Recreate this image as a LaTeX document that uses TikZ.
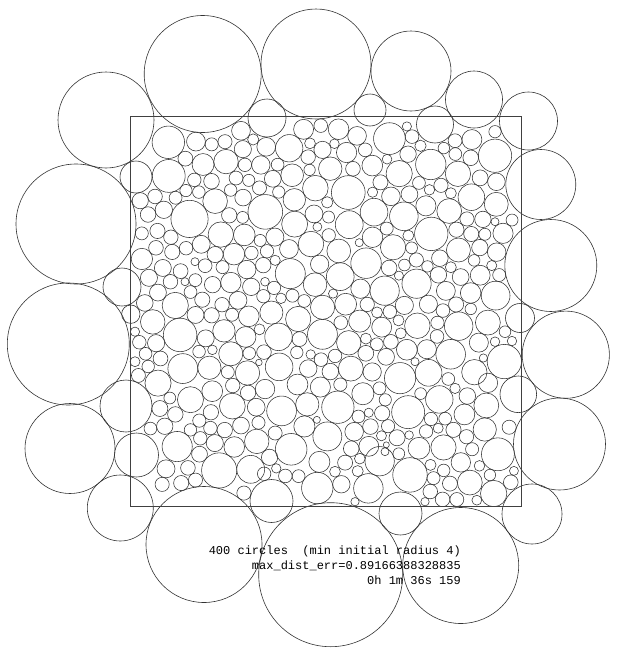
\documentclass[tikz,border=0pt]{standalone}
\usepackage{fontspec}
\newfontfamily\monofont{Liberation Mono}
\makeatletter
\def\getv#1#2#3{\csname #1-#2-#3\endcsname}
\def\setv#1#2#3#4{\expandafter\xdef\csname #1-#2-#3\endcsname{#4}}
\def\dnum#1{\strip@pt\dimexpr#1\relax}
\makeatother
\def\SX{130}\def\SY{116.7}\def\SXE{521.5}\def\SYE{506.7}
\def\SP{20.605}\def\HS{17.727}\def\JIT{8}\def\UNIT{11.8}
\def\FIXED{202.7/74/58.5,316/64/55,411/71/40,474/99.5/28.5,528.5/121/29,106/120/48,267/118/19,370/110/16,435/124.5/18.5,136/177/16,76/224/60,540.8/184.5/35,550.8/265.5/46,122/287/19,130.8/314.2/9.2,68.3/344/61,520/318/14.5,565.8/354.7/43.6,518.3/394.3/18.3,126/406/26,70/448.5/45,559.5/444/46,136.5/455/22,120.3/508/33,532/514/30,204/544.5/58,330.7/574.7/72,460.7/565.5/58,400.5/513.5/21.5,271.5/501/21.5}
\def\HALF{1/0,2/0,-2/1,-1/1,0/1,1/1,2/1,-2/2,-1/2,0/2,1/2,2/2}
\def\FULL{-2/-2,-1/-2,0/-2,1/-2,2/-2,-2/-1,-1/-1,0/-1,1/-1,2/-1,-2/0,-1/0,1/0,2/0,-2/1,-1/1,0/1,1/1,2/1,-2/2,-1/2,0/2,1/2,2/2}
\def\FULLZ{0/0,-1/0,1/0,0/-1,0/1,-1/-1,1/-1,-1/1,1/1,-2/0,2/0,0/-2,0/2,-2/-2,-1/-2,1/-2,2/-2,-2/-1,2/-1,-2/1,2/1,-2/2,-1/2,1/2,2/2}
\def\CELLS{0/0,-1/-1,0/-1,1/-1,-1/0,1/0,-1/1,0/1,1/1}
\tikzset{
  fixedcircle/.style={draw=black!80, line width=0.6pt},
  packcircle/.style={draw=black!80, line width=0.55pt},
  frame/.style={draw=black!75, line width=1pt},
  caption/.style={font=\monofont\fontsize{12}{15}\selectfont, inner sep=0pt, anchor=base east, text=black}
}
% ---------- pass 1: lattice points, target radii, nearby fixed circles
\pgfmathsetseed{2024}%
\gdef\ACTIVE{}%
\foreach \j in {0,...,21}{%
  \pgfmathtruncatemacro\qodd{mod(\j,2)}%
  \pgfmathtruncatemacro\qimax{18-\qodd}%
  \foreach \i in {0,...,\qimax}{%
    \pgfmathsetmacro\qx{\SX+(\i+0.5+0.5*\qodd)*\SP+(rnd-0.5)*\JIT}%
    \pgfmathsetmacro\qy{\SY+(\j+0.5)*\HS+(rnd-0.5)*\JIT}%
    \pgfmathsetmacro\qu{rnd}%
    \pgfmathsetmacro\qR{\UNIT*(0.55+1.1*\qu*\qu*sqrt(\qu))}%
    \gdef\qM{100}%
    \gdef\qF{}%
    \foreach \fx/\fy/\fr in \FIXED {%
      \ifdim\dimexpr\qx pt-\fx pt\relax<\dimexpr\fr pt+45pt\relax
      \ifdim\dimexpr\fx pt-\qx pt\relax<\dimexpr\fr pt+45pt\relax
      \ifdim\dimexpr\qy pt-\fy pt\relax<\dimexpr\fr pt+45pt\relax
      \ifdim\dimexpr\fy pt-\qy pt\relax<\dimexpr\fr pt+45pt\relax
        \pgfmathsetmacro\qt{10*sqrt(((\qx-\fx)/10)^2+((\qy-\fy)/10)^2)-\fr}%
        \ifdim\qt pt<45pt
          \ifx\qF\empty\xdef\qF{\fx/\fy/\fr}\else\xdef\qF{\qF,\fx/\fy/\fr}\fi
        \fi
        \ifdim\qt pt<\qM pt\global\let\qM\qt\fi
      \fi\fi\fi\fi
    }%
    \ifdim\qM pt>4pt
      \setv{qx}{\i}{\j}{\qx}%
      \setv{qy}{\i}{\j}{\qy}%
      \setv{qR}{\i}{\j}{\qR}%
      \setv{qr}{\i}{\j}{\qR}%
      \setv{qF}{\i}{\j}{\qF}%
      \ifx\ACTIVE\empty\xdef\ACTIVE{\i/\j}\else\xdef\ACTIVE{\ACTIVE,\i/\j}\fi
    \fi
  }%
}%
% ---------- pass 2: relaxation (push overlapping circles apart)
\foreach \iter in {1,...,14}{%
 \foreach \i/\j in \ACTIVE {%
  \foreach \ddi/\ddj in \HALF {%
    \edef\nni{\the\numexpr\i+\ddi\relax}%
    \edef\nnj{\the\numexpr\j+\ddj\relax}%
    \ifcsname qx-\nni-\nnj\endcsname
      \edef\pax{\getv{qx}{\i}{\j}}%
      \edef\pay{\getv{qy}{\i}{\j}}%
      \edef\pbx{\getv{qx}{\nni}{\nnj}}%
      \edef\pby{\getv{qy}{\nni}{\nnj}}%
      \edef\pdx{\dnum{\pax pt-\pbx pt}}%
      \edef\pdy{\dnum{\pay pt-\pby pt}}%
      \edef\pneed{\dnum{\getv{qR}{\i}{\j}pt+\getv{qR}{\nni}{\nnj}pt}}%
      \ifnum\numexpr(\dimexpr\pdx pt\relax/655)*(\dimexpr\pdx pt\relax/655)+(\dimexpr\pdy pt\relax/655)*(\dimexpr\pdy pt\relax/655)\relax<\numexpr(\dimexpr\pneed pt\relax/655)*(\dimexpr\pneed pt\relax/655)\relax
        \pgfmathsetmacro\pd{max(sqrt((\pdx)*(\pdx)+(\pdy)*(\pdy)),0.05)}%
        \pgfmathsetmacro\pf{(\pneed-\pd)/(2*\pd)}%
        \setv{qx}{\i}{\j}{\dnum{\pax pt+\pf\dimexpr\pdx pt\relax}}%
        \setv{qy}{\i}{\j}{\dnum{\pay pt+\pf\dimexpr\pdy pt\relax}}%
        \setv{qx}{\nni}{\nnj}{\dnum{\pbx pt-\pf\dimexpr\pdx pt\relax}}%
        \setv{qy}{\nni}{\nnj}{\dnum{\pby pt-\pf\dimexpr\pdy pt\relax}}%
      \fi
    \fi
  }%
  \edef\qFl{\getv{qF}{\i}{\j}}%
  \ifx\qFl\empty\else
    \foreach \fx/\fy/\fr in \qFl {%
      \edef\pax{\getv{qx}{\i}{\j}}%
      \edef\pay{\getv{qy}{\i}{\j}}%
      \edef\pdx{\dnum{\pax pt-\fx pt}}%
      \edef\pdy{\dnum{\pay pt-\fy pt}}%
      \edef\pneed{\dnum{\getv{qR}{\i}{\j}pt+\fr pt}}%
      \ifnum\numexpr(\dimexpr\pdx pt\relax/6554)*(\dimexpr\pdx pt\relax/6554)+(\dimexpr\pdy pt\relax/6554)*(\dimexpr\pdy pt\relax/6554)\relax<\numexpr(\dimexpr\pneed pt\relax/6554)*(\dimexpr\pneed pt\relax/6554)\relax
        \pgfmathsetmacro\pd{max(10*sqrt((\pdx/10)^2+(\pdy/10)^2),0.05)}%
        \pgfmathsetmacro\pf{(\pneed-\pd)/\pd}%
        \setv{qx}{\i}{\j}{\dnum{\pax pt+\pf\dimexpr\pdx pt\relax}}%
        \setv{qy}{\i}{\j}{\dnum{\pay pt+\pf\dimexpr\pdy pt\relax}}%
      \fi
    }%
  \fi
  \edef\pax{\getv{qx}{\i}{\j}}%
  \edef\pay{\getv{qy}{\i}{\j}}%
  \edef\paR{\getv{qR}{\i}{\j}}%
  \ifdim\pax pt<\dimexpr\SX pt+\paR pt\relax\setv{qx}{\i}{\j}{\dnum{\SX pt+\paR pt}}\fi
  \ifdim\pax pt>\dimexpr\SXE pt-\paR pt\relax\setv{qx}{\i}{\j}{\dnum{\SXE pt-\paR pt}}\fi
  \ifdim\pay pt<\dimexpr\SY pt+\paR pt\relax\setv{qy}{\i}{\j}{\dnum{\SY pt+\paR pt}}\fi
  \ifdim\pay pt>\dimexpr\SYE pt-\paR pt\relax\setv{qy}{\i}{\j}{\dnum{\SYE pt-\paR pt}}\fi
 }%
}%
% ---------- pass 3 (twice): final radii, no overlaps, touching neighbours
\foreach \rep in {1,2}{%
\foreach \i/\j in \ACTIVE {%
  \edef\pax{\getv{qx}{\i}{\j}}%
  \edef\pay{\getv{qy}{\i}{\j}}%
  \pgfmathsetmacro\qt{min(\pax-\SX,\SXE-\pax,\pay-\SY,\SYE-\pay,30)}%
  \global\let\qRR\qt
  \edef\qFl{\getv{qF}{\i}{\j}}%
  \ifx\qFl\empty\else
    \foreach \fx/\fy/\fr in \qFl {%
      \pgfmathsetmacro\qt{min(\qRR,10*sqrt(((\pax-\fx)/10)^2+((\pay-\fy)/10)^2)-\fr)}%
      \global\let\qRR\qt
    }%
  \fi
  \foreach \ddi/\ddj in \FULL {%
    \edef\nni{\the\numexpr\i+\ddi\relax}%
    \edef\nnj{\the\numexpr\j+\ddj\relax}%
    \ifcsname qx-\nni-\nnj\endcsname
      \edef\pbx{\getv{qx}{\nni}{\nnj}}%
      \edef\pby{\getv{qy}{\nni}{\nnj}}%
      \edef\pbr{\getv{qr}{\nni}{\nnj}}%
      \edef\pdx{\dnum{\pax pt-\pbx pt}}%
      \edef\pdy{\dnum{\pay pt-\pby pt}}%
      \edef\pneed{\dnum{\qRR pt+\pbr pt}}%
      \ifnum\numexpr(\dimexpr\pdx pt\relax/655)*(\dimexpr\pdx pt\relax/655)+(\dimexpr\pdy pt\relax/655)*(\dimexpr\pdy pt\relax/655)\relax<\numexpr(\dimexpr\pneed pt\relax/655)*(\dimexpr\pneed pt\relax/655)\relax
        \pgfmathsetmacro\qt{min(\qRR,sqrt((\pdx)*(\pdx)+(\pdy)*(\pdy))-\pbr)}%
        \global\let\qRR\qt
      \fi
    \fi
  }%
  \setv{qr}{\i}{\j}{\qRR}%
}%
}%
% ---------- pass 4: fill the remaining gaps with extra circles
\gdef\FILLS{}%
\foreach \thr in {6,4}{%
 \foreach \cyk in {0,...,38}{%
  \foreach \cxk in {0,...,38}{%
   \edef\gx{\the\numexpr135+10*\cxk\relax}%
   \edef\gy{\dnum{121.7pt+10\dimexpr\cyk pt\relax}}%
   \pgfmathsetmacro\gw{min(\gx-\SX,\SXE-\gx,\gy-\SY,\SYE-\gy)}%
   \pgfmathsetmacro\gr{min(\gw,11)}%
   \global\let\gR\gr
   \pgfmathtruncatemacro\gi{(\gx-\SX)/\SP}%
   \pgfmathtruncatemacro\gj{(\gy-\SY)/\HS}%
   \foreach \ddi/\ddj in \FULLZ {%
     \ifdim\gR pt<\thr pt\else
       \edef\nni{\the\numexpr\gi+\ddi\relax}%
       \edef\nnj{\the\numexpr\gj+\ddj\relax}%
       \ifcsname qx-\nni-\nnj\endcsname
         \edef\pbr{\getv{qr}{\nni}{\nnj}}%
         \ifdim\pbr pt>1.5pt
           \edef\pdx{\dnum{\gx pt-\getv{qx}{\nni}{\nnj}pt}}%
           \edef\pdy{\dnum{\gy pt-\getv{qy}{\nni}{\nnj}pt}}%
           \edef\pneed{\dnum{\gR pt+\pbr pt}}%
           \ifnum\numexpr(\dimexpr\pdx pt\relax/655)*(\dimexpr\pdx pt\relax/655)+(\dimexpr\pdy pt\relax/655)*(\dimexpr\pdy pt\relax/655)\relax<\numexpr(\dimexpr\pneed pt\relax/655)*(\dimexpr\pneed pt\relax/655)\relax
             \pgfmathsetmacro\qt{min(\gR,sqrt((\pdx)*(\pdx)+(\pdy)*(\pdy))-\pbr)}%
             \global\let\gR\qt
           \fi
         \fi
       \fi
     \fi
   }%
   \ifdim\gR pt<\thr pt\else
     \ifdim\gw pt<40pt
       \foreach \fx/\fy/\fr in \FIXED {%
         \ifdim\gR pt<\thr pt\else
           \edef\pdx{\dnum{\gx pt-\fx pt}}%
           \edef\pdy{\dnum{\gy pt-\fy pt}}%
           \edef\pneed{\dnum{\gR pt+\fr pt}}%
           \ifnum\numexpr(\dimexpr\pdx pt\relax/6554)*(\dimexpr\pdx pt\relax/6554)+(\dimexpr\pdy pt\relax/6554)*(\dimexpr\pdy pt\relax/6554)\relax<\numexpr(\dimexpr\pneed pt\relax/6554)*(\dimexpr\pneed pt\relax/6554)\relax
             \pgfmathsetmacro\qt{min(\gR,10*sqrt((\pdx/10)^2+(\pdy/10)^2)-\fr)}%
             \global\let\gR\qt
           \fi
         \fi
       }%
     \fi
   \fi
   \edef\gcx{\the\numexpr(\cxk-1)/3\relax}%
   \edef\gcy{\the\numexpr(\cyk-1)/3\relax}%
   \ifdim\gR pt<\thr pt\else
     \foreach \ddi/\ddj in \CELLS {%
       \edef\nni{\the\numexpr\gcx+\ddi\relax}%
       \edef\nnj{\the\numexpr\gcy+\ddj\relax}%
       \ifcsname fc-\nni-\nnj\endcsname
         \edef\gl{\getv{fc}{\nni}{\nnj}}%
         \foreach \hx/\hy/\hr in \gl {%
           \edef\pdx{\dnum{\gx pt-\hx pt}}%
           \edef\pdy{\dnum{\gy pt-\hy pt}}%
           \edef\pneed{\dnum{\gR pt+\hr pt}}%
           \ifnum\numexpr(\dimexpr\pdx pt\relax/655)*(\dimexpr\pdx pt\relax/655)+(\dimexpr\pdy pt\relax/655)*(\dimexpr\pdy pt\relax/655)\relax<\numexpr(\dimexpr\pneed pt\relax/655)*(\dimexpr\pneed pt\relax/655)\relax
             \pgfmathsetmacro\qt{min(\gR,sqrt((\pdx)*(\pdx)+(\pdy)*(\pdy))-\hr)}%
             \global\let\gR\qt
           \fi
         }%
       \fi
     }%
   \fi
   \ifdim\gR pt<\thr pt\else
     \ifcsname fc-\gcx-\gcy\endcsname
       \setv{fc}{\gcx}{\gcy}{\getv{fc}{\gcx}{\gcy},\gx/\gy/\gR}%
     \else
       \setv{fc}{\gcx}{\gcy}{\gx/\gy/\gR}%
     \fi
     \ifx\FILLS\empty\xdef\FILLS{\gx/\gy/\gR}\else\xdef\FILLS{\FILLS,\gx/\gy/\gR}\fi
   \fi
  }%
 }%
}%
\begin{document}
\begin{tikzpicture}[x=1pt,y=-1pt]
\useasboundingbox (0,0) rectangle (617,653);
\foreach \fx/\fy/\fr in \FIXED {\draw[fixedcircle] (\fx,\fy) circle[radius=\fr pt];}
\foreach \i/\j in \ACTIVE {%
  \edef\pcx{\getv{qx}{\i}{\j}}%
  \edef\pcy{\getv{qy}{\i}{\j}}%
  \edef\pcr{\getv{qr}{\i}{\j}}%
  \ifdim\pcr pt>1.5pt
    \draw[packcircle] (\pcx,\pcy) circle[radius=\pcr pt];
  \fi
}
\ifx\FILLS\empty\else
  \foreach \hx/\hy/\hr in \FILLS {\draw[packcircle] (\hx,\hy) circle[radius=\hr pt];}
\fi
\draw[frame] (130,116.7) rectangle (521.5,506.7);
\node[caption] (line1) at (461,554) {400 circles\ \ (min initial radius 4)};
\node[caption] (line2) at (461,569) {max\_dist\_err=0.89166388328835};
\node[caption] (line3) at (461,584) {0h 1m 36s 159};
\end{tikzpicture}
\end{document}
